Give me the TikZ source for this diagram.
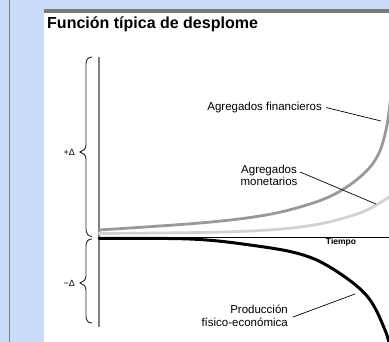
\documentclass[tikz,border=0pt]{standalone}
\usepackage{fontspec}
\setmainfont{Liberation Sans}
\definecolor{bgblue}{HTML}{C9DCF7}
\definecolor{panelgray}{HTML}{7A7A7A}
\definecolor{axisgray}{HTML}{808080}
\definecolor{fingray}{HTML}{999999}
\definecolor{mongray}{HTML}{D2D2D2}
\begin{document}
\begin{tikzpicture}[x=1pt,y=-1pt,
  lbl/.style={font=\fontsize{11.5}{12.5}\selectfont, inner sep=0pt},
  deltalbl/.style={font=\fontsize{9}{10}\selectfont, inner sep=0pt, anchor=east},
  leader/.style={draw=black, line width=0.7pt},
  bracepath/.style={draw=black!85, line width=0.9pt},
  curve/.style={line width=2.8pt, line cap=round}
]
\useasboundingbox (0,0) rectangle (389,342);
% background and frame
\fill[bgblue] (0,0) rectangle (389,342);
\draw[axisgray, line width=1.5pt] (9.5,0) -- (9.5,342);
\fill[white] (44,13) rectangle (389,342);
\fill[panelgray] (44,9) rectangle (389,13);
% title
\node[anchor=base west, inner sep=0pt, font=\fontsize{16}{18}\selectfont\bfseries] (title) at (47,28.5) {Función típica de desplome};
% axes
\coordinate (ytop) at (99,57);
\coordinate (ybot) at (99,327);
\coordinate (xl) at (99,237);
\coordinate (xr) at (389,237);
\draw[axisgray, line width=1.4pt] (ytop) -- (ybot);
\draw[black, line width=0.6pt] (xl) -- (xr);
\node[inner sep=0pt, font=\fontsize{8.5}{9}\selectfont\bfseries] (tiempo) at (341,242.5) {Tiempo};
% curves
\begin{scope}
\clip (44,13) rectangle (389,342);
\draw[curve, mongray] plot[smooth, tension=0.6] coordinates {(99,233.5) (200,232.5) (260,230.5) (300,227) (333,221) (367,210) (395,193)};
\draw[curve, fingray] plot[smooth, tension=0.6] coordinates {(99,230) (200,223) (260,216) (300,207) (333,195) (360,177) (377,157) (386,130) (391,95) (393,70)};
\draw[curve, black, line width=3pt] plot[smooth, tension=0.6] coordinates {(99,238.5) (190,239) (250,245) (300,254) (333,269) (367,296) (385,330) (391,352)};
\end{scope}
% braces
\draw[bracepath] (92,57) .. controls (88,57) and (86,60) .. (86,64) -- (86,145)
  .. controls (86,149) and (83,151) .. (80,152)
  .. controls (83,153) and (86,155) .. (86,159) -- (86,229)
  .. controls (86,233) and (88,236.5) .. (92,236.5);
\draw[bracepath] (92,239) .. controls (88,239) and (86,241.5) .. (86,246) -- (86,276)
  .. controls (86,280) and (83,282) .. (80,283)
  .. controls (83,284) and (86,286) .. (86,290) -- (86,316)
  .. controls (86,320.5) and (88,323) .. (92,323);
\node[deltalbl] (plusd) at (75,152) {+Δ};
\node[deltalbl] (minusd) at (75,283) {−Δ};
% labels and leaders
\node[lbl, anchor=base east] (fin) at (322,110.5) {Agregados financieros};
\coordinate (finA) at (326,107.5);
\coordinate (finB) at (381,121);
\draw[leader] (finA) -- (finB);
\node[lbl, align=center, anchor=north] (mon) at (269,164.5) {Agregados\\monetarios};
\coordinate (monA) at (300,172);
\coordinate (monB) at (376,204);
\draw[leader] (monA) -- (monB);
\node[lbl, align=right, anchor=north east] (prod) at (288,305) {Producción\\físico-económica};
\coordinate (prodA) at (293,317);
\coordinate (prodB) at (355,294);
\draw[leader] (prodA) -- (prodB);
\end{tikzpicture}
\end{document}
